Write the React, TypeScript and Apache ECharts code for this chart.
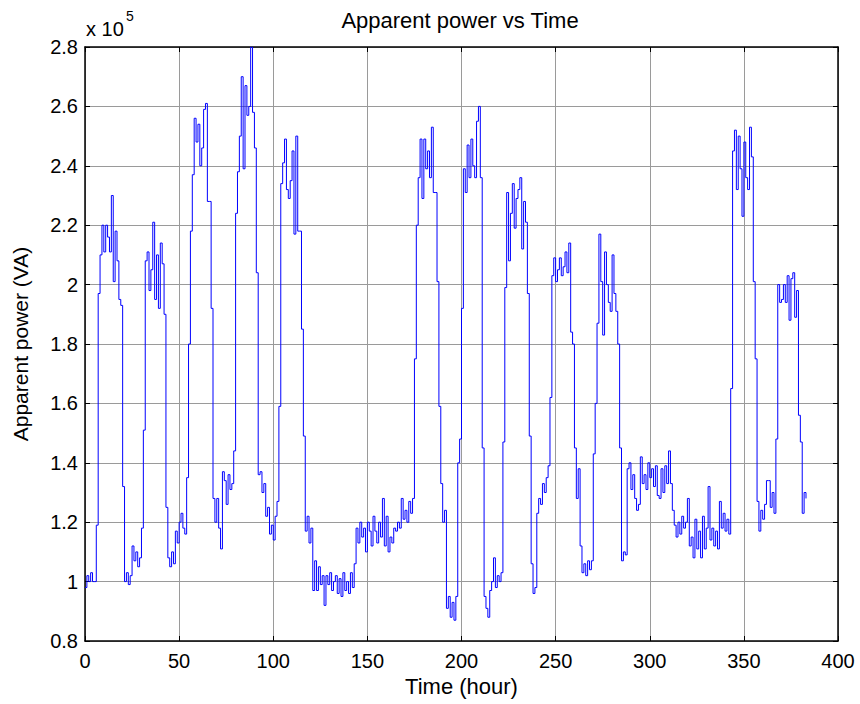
import React, { useEffect, useRef } from "react";
import * as echarts from "echarts";

// Apparent power, in units of 10^5 VA, one reading per hour (hour 0 .. 383)
const apparentPowerE5: number[] = [
  0.98, 1.02, 1.00, 1.03, 1.00, 1.00, 1.19, 1.97, 2.10, 2.20,
  2.11, 2.20, 2.16, 2.11, 2.30, 2.01, 2.18, 2.08, 1.95, 1.93,
  1.32, 1.00, 1.03, 0.99, 1.02, 1.12, 1.07, 1.10, 1.05, 1.08,
  1.18, 1.51, 2.08, 2.11, 1.98, 2.05, 2.21, 1.95, 2.10, 1.92,
  2.14, 2.07, 1.90, 1.25, 1.08, 1.05, 1.10, 1.06, 1.17, 1.13,
  1.20, 1.23, 1.18, 1.16, 1.35, 1.80, 2.18, 2.37, 2.56, 2.48,
  2.54, 2.40, 2.46, 2.59, 2.61, 2.28, 2.28, 1.92, 1.28, 1.20,
  1.28, 1.18, 1.11, 1.37, 1.34, 1.26, 1.36, 1.31, 1.33, 1.44,
  2.24, 2.38, 2.50, 2.70, 2.39, 2.67, 2.57, 2.60, 2.80, 2.58,
  2.46, 2.04, 1.36, 1.37, 1.30, 1.33, 1.22, 1.25, 1.16, 1.19,
  1.14, 1.22, 1.27, 1.59, 2.34, 2.41, 2.49, 2.32, 2.29, 2.35,
  2.45, 2.17, 2.50, 2.18, 2.18, 1.85, 1.49, 1.17, 1.22, 1.13,
  1.18, 0.97, 1.07, 0.97, 1.05, 0.99, 1.02, 0.92, 1.02, 0.99,
  1.03, 0.97, 1.00, 1.02, 0.96, 1.01, 0.95, 1.03, 0.97, 1.00,
  0.96, 1.03, 0.98, 1.06, 1.18, 1.13, 1.20, 1.15, 1.18, 1.10,
  1.20, 1.17, 1.12, 1.22, 1.17, 1.13, 1.20, 1.15, 1.28, 1.12,
  1.22, 1.10, 1.15, 1.13, 1.18, 1.17, 1.20, 1.18, 1.28, 1.21,
  1.24, 1.20, 1.27, 1.23, 1.28, 1.75, 2.20, 2.36, 2.49, 2.29,
  2.49, 2.39, 2.45, 2.36, 2.53, 2.31, 2.31, 2.01, 1.59, 1.33,
  1.20, 1.24, 0.91, 0.95, 0.88, 0.93, 0.87, 0.95, 1.40, 1.48,
  1.92, 2.39, 2.31, 2.47, 2.36, 2.49, 2.40, 2.36, 2.55, 2.60,
  2.36, 1.45, 0.95, 0.91, 0.88, 0.97, 1.00, 1.08, 0.98, 1.02,
  1.00, 1.03, 1.47, 1.99, 2.31, 2.08, 2.24, 2.34, 2.19, 2.29,
  2.32, 2.36, 2.12, 2.28, 2.21, 1.97, 1.49, 1.06, 0.96, 0.98,
  1.23, 1.28, 1.26, 1.33, 1.30, 1.35, 1.39, 1.62, 2.03, 2.09,
  2.01, 2.05, 2.09, 2.03, 2.06, 2.11, 2.04, 2.14, 1.84, 1.80,
  1.45, 1.28, 1.38, 1.12, 1.03, 1.06, 1.02, 1.07, 1.04, 1.07,
  1.43, 1.60, 1.87, 2.17, 2.01, 1.83, 2.11, 2.00, 1.94, 1.91,
  2.10, 1.97, 1.91, 1.80, 1.45, 1.07, 1.10, 1.09, 1.38, 1.40,
  1.31, 1.36, 1.28, 1.24, 1.26, 1.42, 1.33, 1.36, 1.31, 1.40,
  1.35, 1.38, 1.32, 1.39, 1.29, 1.28, 1.38, 1.30, 1.39, 1.33,
  1.44, 1.33, 1.24, 1.19, 1.15, 1.20, 1.16, 1.22, 1.18, 1.20,
  1.28, 1.12, 1.15, 1.08, 1.21, 1.11, 1.17, 1.08, 1.22, 1.11,
  1.18, 1.32, 1.14, 1.18, 1.12, 1.17, 1.11, 1.27, 1.18, 1.23,
  1.17, 1.21, 1.16, 1.65, 2.45, 2.52, 2.32, 2.50, 2.39, 2.23,
  2.48, 2.36, 2.32, 2.53, 2.43, 2.01, 1.75, 1.27, 1.17, 1.24,
  1.21, 1.26, 1.34, 1.34, 1.25, 1.30, 1.23, 1.48, 2.00, 1.94,
  1.95, 2.00, 1.94, 2.03, 1.88, 2.02, 2.04, 1.89, 1.98, 1.56,
  1.47, 1.23, 1.30, 1.28,
];

// time axis (hours), one sample per hour
const hours: number[] = apparentPowerE5.map((_, i) => i);

const xTicks = { min: 0, max: 400, interval: 50 };
const yTicks = { min: 0.8, max: 2.8, interval: 0.2 };

const TITLE = "Apparent power vs Time";
const X_NAME = "Time (hour)";
const Y_NAME = "Apparent power (VA)";
const EXP_BASE = "x 10";
const EXP_POWER = "5";

const FONT = "'Liberation Sans', Arial, Helvetica, sans-serif";

export default function App() {
  const ref = useRef<HTMLDivElement | null>(null);

  useEffect(() => {
    if (!ref.current) return;
    const chart = echarts.init(ref.current, undefined, { renderer: "svg" });
    const data = hours.map((h, i) => [h, apparentPowerE5[i]]);
    const gridColor = "#9a9a9a";
    const tickStyle = { show: true, inside: true, length: 5, lineStyle: { color: "#000", width: 1 } };
    const axisLine = { show: true, onZero: false, lineStyle: { color: "#000", width: 1.5 } };

    chart.setOption({
      animation: false,
      backgroundColor: "#ffffff",
      textStyle: { fontFamily: FONT },
      title: {
        text: TITLE,
        left: 460,
        top: 9,
        padding: 0,
        textAlign: "center",
        textStyle: { fontSize: 22, fontWeight: "normal", color: "#000", fontFamily: FONT },
      },
      grid: { left: 85, right: 22, top: 47, bottom: 63, containLabel: false, outerBoundsMode: "none" },
      graphic: [
        {
          type: "text",
          left: 86,
          top: 19,
          style: { text: EXP_BASE, fontSize: 20, fill: "#000", fontFamily: FONT },
        },
        {
          type: "text",
          left: 126,
          top: 9,
          style: { text: EXP_POWER, fontSize: 14, fill: "#000", fontFamily: FONT },
        },
      ],
      xAxis: [
        {
          type: "value",
          position: "bottom",
          min: xTicks.min,
          max: xTicks.max,
          interval: xTicks.interval,
          name: X_NAME,
          nameLocation: "middle",
          nameGap: 31,
          nameTextStyle: { fontSize: 22, color: "#000", fontFamily: FONT },
          axisLine,
          axisTick: tickStyle,
          axisLabel: { fontSize: 20, color: "#000", margin: 10, fontFamily: FONT },
          splitLine: { show: true, lineStyle: { color: gridColor, width: 1 } },
        },
        {
          type: "value",
          position: "top",
          min: xTicks.min,
          max: xTicks.max,
          interval: xTicks.interval,
          axisLine,
          axisTick: tickStyle,
          axisLabel: { show: false },
          splitLine: { show: false },
        },
      ],
      yAxis: [
        {
          type: "value",
          position: "left",
          min: yTicks.min,
          max: yTicks.max,
          interval: yTicks.interval,
          name: Y_NAME,
          nameLocation: "middle",
          nameGap: 54,
          nameTextStyle: { fontSize: 21, color: "#000", fontFamily: FONT },
          axisLine,
          axisTick: tickStyle,
          axisLabel: {
            fontSize: 20,
            color: "#000",
            margin: 7,
            fontFamily: FONT,
            formatter: (v: number) => String(Math.round(v * 10) / 10),
          },
          splitLine: { show: true, lineStyle: { color: gridColor, width: 1 } },
        },
        {
          type: "value",
          position: "right",
          min: yTicks.min,
          max: yTicks.max,
          interval: yTicks.interval,
          axisLine,
          axisTick: tickStyle,
          axisLabel: { show: false },
          splitLine: { show: false },
        },
      ],
      series: [
        {
          type: "line",
          name: "Apparent power",
          xAxisIndex: 0,
          yAxisIndex: 0,
          step: "end",
          data,
          showSymbol: false,
          symbol: "none",
          lineStyle: { color: "#0000ff", width: 1 },
          z: 3,
        },
      ],
    });

    return () => chart.dispose();
  }, []);

  return (
    <div
      ref={ref}
      style={{ position: "fixed", left: 0, top: 0, width: 860, height: 704, background: "#fff" }}
    />
  );
}
